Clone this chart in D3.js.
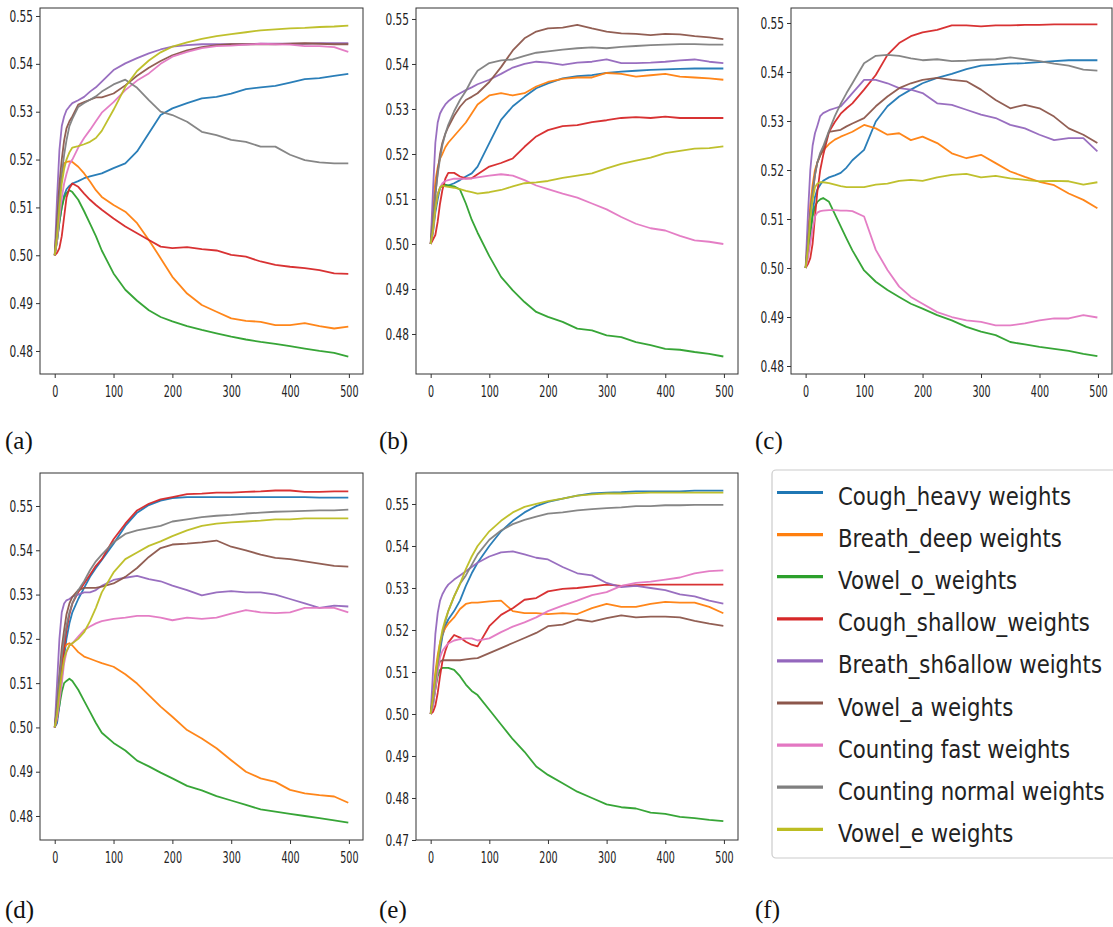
<!DOCTYPE html>
<html><head><meta charset="utf-8">
<script src="https://cdn.jsdelivr.net/npm/d3@7/dist/d3.min.js"></script>
<style>body{margin:0;background:#fff}svg{display:block}</style>
</head><body>
<svg id="chart" width="1113" height="927"></svg>
<script>
// ---------- data ----------
const steps = [0,4,8,12,16,20,25,30,40,50,60,70,80,100,120,140,160,180,200,225,250,275,300,325,350,375,400,425,450,475,499];
const seriesNames = ["Cough_heavy weights","Breath_deep weights","Vowel_o_weights","Cough_shallow_weights","Breath_sh6allow weights","Vowel_a weights","Counting fast weights","Counting normal weights","Vowel_e weights"];
const seriesColors = ["#1f77b4","#ff7f0e","#2ca02c","#d62728","#9467bd","#8c564b","#e377c2","#7f7f7f","#bcbd22"];
const xTicks = [0,100,200,300,400,500];
const yTicksMain = [0.48,0.49,0.50,0.51,0.52,0.53,0.54,0.55];
const yTicksE = [0.47,0.48,0.49,0.50,0.51,0.52,0.53,0.54,0.55];
const panelLabels = ["(a)","(b)","(c)","(d)","(e)","(f)"];

const dataA = [
 [0.500,0.503,0.507,0.510,0.5125,0.5138,0.5145,0.515,0.5155,0.5161,0.5165,0.5168,0.5171,0.5182,0.5192,0.5217,0.5255,0.5293,0.5307,0.5318,0.5328,0.5331,0.5338,0.5347,0.5351,0.5354,0.5361,0.5368,0.5370,0.5375,0.5379],
 [0.500,0.507,0.513,0.517,0.5192,0.5195,0.5196,0.5195,0.5185,0.5171,0.5154,0.5136,0.5122,0.5105,0.5091,0.5067,0.5032,0.4994,0.4955,0.4920,0.4896,0.4882,0.4868,0.4863,0.4861,0.4854,0.4854,0.4858,0.4852,0.4847,0.4851],
 [0.500,0.503,0.507,0.510,0.512,0.513,0.5136,0.5132,0.5116,0.5092,0.5066,0.5040,0.5010,0.4962,0.4928,0.4905,0.4885,0.4871,0.4862,0.4852,0.4844,0.4837,0.4830,0.4824,0.4819,0.4815,0.4810,0.4805,0.4800,0.4796,0.4788],
 [0.500,0.5005,0.5015,0.504,0.508,0.512,0.514,0.515,0.5143,0.5129,0.5116,0.5105,0.5095,0.5077,0.5060,0.5046,0.5032,0.5018,0.5015,0.5017,0.5013,0.5010,0.5001,0.4997,0.4987,0.4980,0.4976,0.4973,0.4969,0.4962,0.4961],
 [0.500,0.512,0.522,0.527,0.529,0.5303,0.5311,0.5318,0.5324,0.5331,0.5342,0.5351,0.5363,0.5387,0.5401,0.5412,0.5422,0.5430,0.5436,0.5439,0.5441,0.5441,0.5441,0.5441,0.5442,0.5442,0.5442,0.5442,0.5443,0.5443,0.5443],
 [0.500,0.507,0.515,0.520,0.524,0.5265,0.528,0.529,0.5315,0.532,0.5325,0.533,0.533,0.5338,0.5355,0.5375,0.5392,0.5406,0.5418,0.5428,0.5435,0.5439,0.5441,0.5441,0.5441,0.5441,0.5442,0.5443,0.5442,0.5441,0.5441],
 [0.500,0.503,0.508,0.512,0.515,0.517,0.519,0.520,0.5225,0.5245,0.5262,0.528,0.5298,0.532,0.5345,0.5365,0.538,0.540,0.5415,0.5425,0.5433,0.5437,0.5438,0.5440,0.5442,0.5441,0.5440,0.5437,0.5437,0.5435,0.5425],
 [0.500,0.505,0.512,0.517,0.521,0.524,0.527,0.5285,0.531,0.5318,0.5325,0.5332,0.5342,0.5357,0.5367,0.5350,0.5324,0.5300,0.5293,0.5279,0.5258,0.5251,0.5241,0.5237,0.5227,0.5227,0.5210,0.5199,0.5194,0.5192,0.5192],
 [0.500,0.504,0.510,0.515,0.518,0.520,0.5215,0.5225,0.5228,0.5232,0.5237,0.5245,0.526,0.5304,0.5352,0.5385,0.5407,0.5424,0.5436,0.5445,0.5452,0.5458,0.5462,0.5466,0.5470,0.5472,0.5474,0.5475,0.5477,0.5478,0.5480]
];
const dataB = [
 [0.500,0.5025,0.507,0.510,0.5125,0.513,0.513,0.513,0.5135,0.5142,0.515,0.5157,0.5172,0.5224,0.5276,0.5306,0.5327,0.5346,0.5357,0.5368,0.5373,0.5375,0.538,0.5383,0.5385,0.5387,0.5388,0.5389,0.539,0.539,0.539],
 [0.500,0.508,0.514,0.517,0.519,0.520,0.5215,0.5225,0.524,0.5255,0.527,0.529,0.531,0.533,0.5335,0.533,0.5335,0.535,0.536,0.5367,0.537,0.537,0.538,0.5378,0.5372,0.5375,0.5378,0.5372,0.537,0.5368,0.5365],
 [0.500,0.504,0.508,0.511,0.5125,0.513,0.5132,0.513,0.5128,0.5121,0.509,0.5054,0.5025,0.4973,0.4927,0.4897,0.4871,0.4849,0.4838,0.4827,0.4812,0.4808,0.4797,0.4793,0.4782,0.4775,0.4767,0.4765,0.4760,0.4756,0.4750],
 [0.500,0.501,0.502,0.505,0.509,0.512,0.5145,0.5158,0.5158,0.515,0.5146,0.5146,0.5155,0.5172,0.518,0.519,0.5216,0.5239,0.5253,0.5262,0.5264,0.5271,0.5275,0.528,0.5282,0.528,0.5283,0.528,0.528,0.528,0.528],
 [0.500,0.512,0.5225,0.527,0.529,0.530,0.531,0.5317,0.5327,0.5335,0.5342,0.5348,0.5355,0.5365,0.5378,0.5392,0.540,0.5405,0.5403,0.5398,0.5403,0.5405,0.541,0.5402,0.5402,0.5403,0.5405,0.5408,0.541,0.5405,0.5402],
 [0.500,0.505,0.511,0.516,0.520,0.5225,0.5245,0.526,0.5285,0.5305,0.532,0.5327,0.5335,0.536,0.5393,0.543,0.5457,0.5472,0.5479,0.5481,0.5487,0.5479,0.5472,0.5468,0.5467,0.5464,0.5467,0.5466,0.5462,0.5459,0.5455],
 [0.500,0.503,0.508,0.511,0.5125,0.5135,0.514,0.5142,0.5145,0.5145,0.5145,0.5146,0.5148,0.5152,0.5155,0.5152,0.5142,0.513,0.5122,0.5112,0.5103,0.509,0.5077,0.506,0.5045,0.5035,0.503,0.5018,0.5008,0.5005,0.500],
 [0.500,0.505,0.511,0.5155,0.519,0.522,0.5245,0.5265,0.5295,0.532,0.534,0.5365,0.5385,0.5402,0.5408,0.541,0.5418,0.5425,0.5428,0.5432,0.5435,0.5437,0.5435,0.5438,0.544,0.5442,0.5443,0.5444,0.5444,0.5443,0.5443],
 [0.500,0.503,0.508,0.511,0.5125,0.513,0.5128,0.5127,0.5125,0.5122,0.5118,0.5115,0.5112,0.5115,0.512,0.5128,0.5135,0.5137,0.514,0.5147,0.5152,0.5157,0.5168,0.5178,0.5185,0.5192,0.5202,0.5207,0.5212,0.5213,0.5217]
];
const dataC = [
 [0.500,0.503,0.507,0.5115,0.5145,0.516,0.517,0.5178,0.5185,0.5189,0.5194,0.5205,0.522,0.5241,0.5299,0.533,0.535,0.5364,0.5377,0.5388,0.5396,0.5406,0.5413,0.5415,0.5417,0.5418,0.542,0.5422,0.5424,0.5424,0.5424],
 [0.500,0.507,0.513,0.517,0.520,0.5215,0.523,0.524,0.5253,0.5262,0.5268,0.5273,0.5278,0.5292,0.5285,0.5272,0.5275,0.5261,0.5268,0.5255,0.5234,0.5224,0.5231,0.5214,0.5197,0.5186,0.5176,0.5169,0.5152,0.5139,0.5122],
 [0.500,0.503,0.507,0.5105,0.5125,0.5135,0.514,0.5143,0.5135,0.511,0.5085,0.506,0.5036,0.4995,0.4972,0.4955,0.4941,0.4927,0.4917,0.4904,0.4893,0.488,0.487,0.4863,0.4849,0.4844,0.4839,0.4835,0.4831,0.4825,0.482],
 [0.500,0.5008,0.502,0.505,0.5105,0.5155,0.520,0.523,0.5278,0.5298,0.5315,0.5326,0.5336,0.5364,0.5394,0.5435,0.5459,0.5473,0.5481,0.5486,0.5495,0.5495,0.5493,0.5495,0.5495,0.5496,0.5496,0.5497,0.5497,0.5497,0.5497],
 [0.500,0.511,0.520,0.525,0.5275,0.529,0.531,0.5316,0.5322,0.5326,0.533,0.5343,0.5357,0.5384,0.5384,0.5377,0.5367,0.5364,0.5357,0.5336,0.5333,0.5323,0.5313,0.5306,0.5292,0.5285,0.5272,0.5261,0.5265,0.5265,0.5238],
 [0.500,0.505,0.511,0.515,0.519,0.5215,0.523,0.5241,0.5278,0.528,0.5282,0.5289,0.5295,0.5306,0.533,0.535,0.5367,0.5377,0.5384,0.5388,0.5384,0.5381,0.5364,0.5343,0.5326,0.5333,0.5326,0.5309,0.5285,0.5272,0.5255],
 [0.500,0.502,0.505,0.508,0.5105,0.5113,0.5116,0.5117,0.5118,0.5118,0.5117,0.5117,0.5116,0.5105,0.5037,0.4996,0.4962,0.4941,0.4927,0.491,0.490,0.4893,0.489,0.4883,0.4883,0.4887,0.4893,0.4897,0.4897,0.4904,0.4899],
 [0.500,0.505,0.511,0.5155,0.519,0.5215,0.5235,0.5248,0.528,0.531,0.5335,0.5357,0.5377,0.5418,0.5433,0.5435,0.5433,0.5428,0.5424,0.5426,0.5422,0.5423,0.5425,0.5426,0.543,0.5426,0.5422,0.5417,0.5413,0.5405,0.5403],
 [0.500,0.504,0.510,0.514,0.5165,0.5172,0.5175,0.5175,0.5173,0.517,0.5167,0.5165,0.5165,0.5165,0.517,0.5172,0.5178,0.518,0.5178,0.5185,0.519,0.5192,0.5185,0.5188,0.5183,0.518,0.5177,0.5178,0.5177,0.517,0.5175]
];
const dataD = [
 [0.500,0.501,0.505,0.511,0.516,0.520,0.5235,0.526,0.529,0.5315,0.534,0.536,0.5378,0.5415,0.5455,0.5485,0.5502,0.5512,0.5518,0.552,0.552,0.552,0.552,0.552,0.552,0.552,0.552,0.552,0.5519,0.5519,0.5519],
 [0.500,0.505,0.511,0.5155,0.518,0.5187,0.519,0.5185,0.517,0.516,0.5155,0.515,0.5145,0.5137,0.512,0.5099,0.5073,0.5047,0.5024,0.4994,0.4975,0.4953,0.4926,0.490,0.4885,0.4877,0.4859,0.4851,0.4847,0.4844,0.4830],
 [0.500,0.502,0.505,0.508,0.510,0.5105,0.511,0.5105,0.5085,0.506,0.5035,0.501,0.4988,0.4965,0.4948,0.4925,0.4912,0.4898,0.4885,0.4868,0.4858,0.4845,0.4835,0.4825,0.4815,0.481,0.4805,0.480,0.4795,0.479,0.4785],
 [0.500,0.502,0.507,0.513,0.518,0.522,0.5255,0.528,0.5305,0.5325,0.5345,0.5365,0.538,0.5425,0.546,0.549,0.5505,0.5515,0.552,0.5527,0.5528,0.553,0.553,0.5532,0.5533,0.5535,0.5535,0.5532,0.5532,0.5533,0.5533],
 [0.500,0.510,0.520,0.526,0.528,0.5287,0.529,0.5295,0.530,0.5305,0.5305,0.531,0.532,0.5333,0.5338,0.5342,0.5335,0.533,0.532,0.531,0.5298,0.5305,0.5308,0.5305,0.5305,0.530,0.529,0.528,0.527,0.5275,0.5273],
 [0.500,0.505,0.512,0.518,0.522,0.5255,0.528,0.5295,0.531,0.5315,0.5315,0.5315,0.5318,0.5325,0.534,0.536,0.5385,0.5405,0.5413,0.5415,0.5418,0.5422,0.5408,0.540,0.539,0.5383,0.538,0.5375,0.537,0.5365,0.5363],
 [0.500,0.502,0.506,0.510,0.5145,0.517,0.5185,0.519,0.5205,0.522,0.5228,0.5235,0.524,0.5245,0.5248,0.5252,0.5252,0.5248,0.5242,0.5248,0.5245,0.5248,0.5257,0.5265,0.526,0.5258,0.526,0.527,0.527,0.527,0.526],
 [0.500,0.504,0.511,0.516,0.520,0.523,0.526,0.528,0.531,0.533,0.5355,0.5375,0.539,0.5418,0.5437,0.5445,0.545,0.5455,0.5465,0.547,0.5475,0.5478,0.548,0.5483,0.5485,0.5487,0.5488,0.5489,0.549,0.549,0.5492],
 [0.500,0.503,0.508,0.512,0.5155,0.5172,0.5185,0.519,0.520,0.5215,0.524,0.527,0.5305,0.535,0.538,0.5395,0.541,0.542,0.5432,0.5445,0.5455,0.546,0.5463,0.5465,0.5467,0.547,0.547,0.5472,0.5472,0.5472,0.5472]
];
const dataE = [
 [0.500,0.502,0.506,0.511,0.515,0.5185,0.521,0.5225,0.5245,0.527,0.5305,0.5335,0.536,0.540,0.5435,0.546,0.548,0.5495,0.5505,0.5513,0.552,0.5525,0.5527,0.5528,0.553,0.553,0.553,0.553,0.5532,0.5532,0.5532],
 [0.500,0.505,0.510,0.514,0.517,0.519,0.5205,0.5215,0.523,0.525,0.5262,0.5265,0.5265,0.5268,0.527,0.5245,0.524,0.524,0.5238,0.524,0.5238,0.5252,0.5262,0.5255,0.5255,0.5262,0.5267,0.5265,0.5265,0.5255,0.524],
 [0.500,0.503,0.506,0.509,0.5105,0.511,0.511,0.511,0.5105,0.509,0.507,0.5055,0.5045,0.501,0.4975,0.494,0.491,0.4875,0.4855,0.4835,0.4815,0.480,0.4785,0.4778,0.4775,0.4765,0.4762,0.4755,0.4752,0.4748,0.4745],
 [0.500,0.5005,0.502,0.505,0.509,0.5125,0.515,0.517,0.5188,0.5182,0.5172,0.5165,0.5161,0.5209,0.5236,0.5252,0.5272,0.5276,0.5292,0.5298,0.530,0.5304,0.5308,0.5305,0.5307,0.5308,0.5308,0.5308,0.5308,0.5308,0.5308],
 [0.500,0.510,0.519,0.524,0.527,0.5285,0.5298,0.5308,0.532,0.533,0.534,0.535,0.536,0.5375,0.5385,0.5387,0.538,0.5372,0.5368,0.535,0.5335,0.533,0.5312,0.5302,0.5305,0.530,0.5295,0.5285,0.528,0.527,0.5263],
 [0.500,0.504,0.508,0.511,0.5125,0.5128,0.5128,0.5128,0.5128,0.5128,0.513,0.5132,0.5133,0.5145,0.5157,0.5169,0.5181,0.5193,0.5209,0.5213,0.5225,0.522,0.5228,0.5235,0.523,0.5232,0.5232,0.523,0.5222,0.5215,0.521],
 [0.500,0.502,0.506,0.510,0.5135,0.515,0.516,0.5168,0.5175,0.5178,0.518,0.518,0.5175,0.518,0.5195,0.5208,0.5218,0.523,0.5245,0.5258,0.527,0.5283,0.529,0.5305,0.5312,0.5315,0.532,0.5325,0.5335,0.534,0.5342],
 [0.500,0.503,0.508,0.512,0.516,0.519,0.522,0.5245,0.528,0.531,0.533,0.5355,0.538,0.5415,0.5437,0.5452,0.5462,0.547,0.5477,0.548,0.5485,0.5488,0.549,0.5492,0.5495,0.5495,0.5497,0.5497,0.5498,0.5498,0.5498],
 [0.500,0.504,0.509,0.513,0.517,0.520,0.5225,0.5245,0.528,0.531,0.5345,0.5375,0.540,0.5435,0.546,0.548,0.5493,0.550,0.5507,0.5513,0.552,0.5523,0.5525,0.5525,0.5526,0.5527,0.5527,0.5527,0.5527,0.5527,0.5527]
];

// ---------- layout ----------
const panels = [
  {data:dataA, yTicks:yTicksMain, box:[40,8,363,374],   yDom:[0.47519,0.55167]},
  {data:dataB, yTicks:yTicksMain, box:[416,8,738,374],  yDom:[0.47111,0.55244]},
  {data:dataC, yTicks:yTicksMain, box:[791,8,1112,374], yDom:[0.47837,0.55306]},
  {data:dataD, yTicks:yTicksMain, box:[40,473,363,840], yDom:[0.47458,0.55745]},
  {data:dataE, yTicks:yTicksE,    box:[416,473,738,840],yDom:[0.4700,0.55738]}
];
const labelPos = [[5,449],[379,449],[755,449],[5,918],[379,918],[755,918]];

const svg = d3.select("#chart");
const FONT = "DejaVu Sans, Liberation Sans, sans-serif";
const YSX = 0.66, XSX = 0.6; // horizontal squeeze of tick labels

panels.forEach(p => {
  const [x0,y0,x1,y1] = p.box;
  const x = d3.scaleLinear().domain([-25,524]).range([x0,x1]);
  const y = d3.scaleLinear().domain(p.yDom).range([y1,y0]);
  const g = svg.append("g");

  const line = d3.line().x((d,i)=>x(steps[i])).y(d=>y(d));
  p.data.forEach((ser,k)=>{
    g.append("path").datum(ser).attr("d",line)
      .attr("fill","none").attr("stroke",seriesColors[k])
      .attr("stroke-width",1.8).attr("stroke-linejoin","round").attr("stroke-opacity",0.95);
  });

  g.append("rect").attr("x",x0).attr("y",y0).attr("width",x1-x0).attr("height",y1-y0)
    .attr("fill","none").attr("stroke","#333").attr("stroke-width",1);

  const xa = g.append("g").attr("transform",`translate(0,${y1})`)
    .call(d3.axisBottom(x).tickValues(xTicks).tickSize(4).tickPadding(8).tickFormat(d3.format("d")));
  xa.select(".domain").remove();
  xa.selectAll("line").attr("stroke","#333");
  xa.selectAll("text").attr("font-family",FONT).attr("font-size",16).attr("fill","#222")
    .attr("transform",`scale(${XSX},1)`);

  const ya = g.append("g").attr("transform",`translate(${x0},0)`)
    .call(d3.axisLeft(y).tickValues(p.yTicks).tickSize(4).tickPadding(3).tickFormat(d3.format(".2f")));
  ya.select(".domain").remove();
  ya.selectAll("line").attr("stroke","#333");
  ya.selectAll("text").attr("font-family",FONT).attr("font-size",16).attr("fill","#222")
    .attr("x",-7/YSX).attr("transform",`scale(${YSX},1)`);
});

// panel labels
panelLabels.forEach((t,i)=>{
  svg.append("text").attr("x",labelPos[i][0]).attr("y",labelPos[i][1])
    .attr("font-family","Liberation Serif, Times New Roman, serif").attr("font-size",25)
    .attr("fill","#111").text(t);
});

// legend
const lg = svg.append("g");
lg.append("rect").attr("x",772).attr("y",470).attr("width",345).attr("height",388)
  .attr("rx",4).attr("fill","#fff").attr("stroke","#cccccc").attr("stroke-width",1.2);
seriesNames.forEach((n,k)=>{
  const yy = 492.5 + k*42.1;
  lg.append("line").attr("x1",777).attr("x2",823).attr("y1",yy).attr("y2",yy)
    .attr("stroke",seriesColors[k]).attr("stroke-width",3.2);
  lg.append("text").attr("transform",`translate(838,${yy+12.5}) scale(0.85,1)`)
    .attr("font-family",FONT).attr("font-size",25).attr("fill","#222").text(n);
});
</script>
</body></html>
